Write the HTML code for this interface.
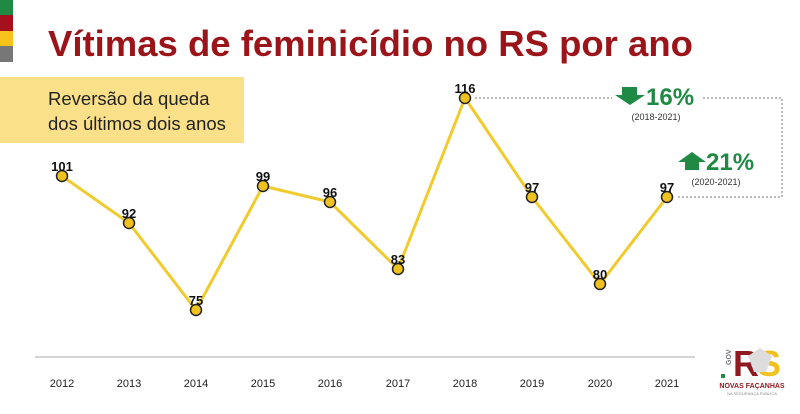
<!DOCTYPE html>
<html><head><meta charset="utf-8"><style>
body{margin:0;width:800px;height:409px;background:#fff;overflow:hidden;font-family:"Liberation Sans",sans-serif}
</style></head><body>
<svg width="800" height="409" xmlns="http://www.w3.org/2000/svg" font-family="Liberation Sans, sans-serif">
<rect x="0" y="0" width="13" height="15" fill="#1e8a43"/>
<rect x="0" y="15" width="13" height="16" fill="#a3121c"/>
<rect x="0" y="31" width="13" height="15" fill="#f6c21b"/>
<rect x="0" y="46" width="13" height="16" fill="#777"/>
<text x="48" y="56" font-size="36.5" font-weight="bold" fill="#9a1419">Vítimas de feminicídio no RS por ano</text>
<rect x="0" y="77" width="244" height="66" fill="#fbe08a"/>
<text x="48" y="105" font-size="18.5" fill="#222">Reversão da queda</text>
<text x="48" y="130" font-size="18.5" fill="#222">dos últimos dois anos</text>
<line x1="35" y1="357" x2="695" y2="357" stroke="#aaa" stroke-width="1"/>
<polyline points="475,98 782,98 782,197 677,197" fill="none" stroke="#777" stroke-width="1" stroke-dasharray="2,2"/>
<rect x="612" y="86" width="90" height="22" fill="#fff"/>
<polyline points="62,176 129,223 196,310 263,186 330,202 398,269 465,98 532,197 600,284 667,197" fill="none" stroke="#f0cb2e" stroke-width="3"/>
<g fill="#f0c21f" stroke="#222" stroke-width="1.5">
<circle cx="62" cy="176" r="5.5"/><circle cx="129" cy="223" r="5.5"/><circle cx="196" cy="310" r="5.5"/><circle cx="263" cy="186" r="5.5"/><circle cx="330" cy="202" r="5.5"/><circle cx="398" cy="269" r="5.5"/><circle cx="465" cy="98" r="5.5"/><circle cx="532" cy="197" r="5.5"/><circle cx="600" cy="284" r="5.5"/><circle cx="667" cy="197" r="5.5"/>
</g>
<g font-size="13" font-weight="bold" fill="#111" text-anchor="middle">
<text x="62" y="171">101</text><text x="129" y="218">92</text><text x="196" y="305">75</text><text x="263" y="181">99</text><text x="330" y="197">96</text><text x="398" y="264">83</text><text x="465" y="93">116</text><text x="532" y="192">97</text><text x="600" y="279">80</text><text x="667" y="192">97</text>
</g>
<polygon points="622,87 637,87 637,95 645,95 630,105 615,95 622,95" fill="#1e8a43"/>
<text x="646" y="105" font-size="24" font-weight="bold" fill="#1e8a43">16%</text>
<text x="656" y="120" font-size="9" fill="#333" text-anchor="middle">(2018-2021)</text>
<polygon points="678,162 692,152 706,162 699,162 699,170 685,170 685,162" fill="#1e8a43"/>
<text x="706" y="170" font-size="24" font-weight="bold" fill="#1e8a43">21%</text>
<text x="716" y="185" font-size="9" fill="#333" text-anchor="middle">(2020-2021)</text>
<g font-size="11" fill="#222" text-anchor="middle">
<text x="62" y="387">2012</text><text x="129" y="387">2013</text><text x="196" y="387">2014</text><text x="263" y="387">2015</text><text x="330" y="387">2016</text><text x="398" y="387">2017</text><text x="465" y="387">2018</text><text x="532" y="387">2019</text><text x="600" y="387">2020</text><text x="667" y="387">2021</text>
</g>
<rect x="721" y="374" width="4" height="4" fill="#1e8a43"/>
<text x="731" y="365" font-size="7" fill="#777" font-weight="bold" transform="rotate(-90 731 365)">GOV</text>
<text x="733" y="376" font-size="36" font-weight="bold" fill="#8f1a22">R</text>
<text x="757" y="376" font-size="36" font-weight="bold" fill="#f0c21f">S</text>
<polygon points="748,356 760,348 772,356 766,372 754,372" fill="#ddd"/>
<text x="752" y="388" font-size="7" font-weight="bold" fill="#8f1a22" text-anchor="middle">NOVAS FAÇANHAS</text>
<text x="752" y="395" font-size="4" fill="#888" text-anchor="middle">NA SEGURANÇA PÚBLICA</text>
</svg>
</body></html>
